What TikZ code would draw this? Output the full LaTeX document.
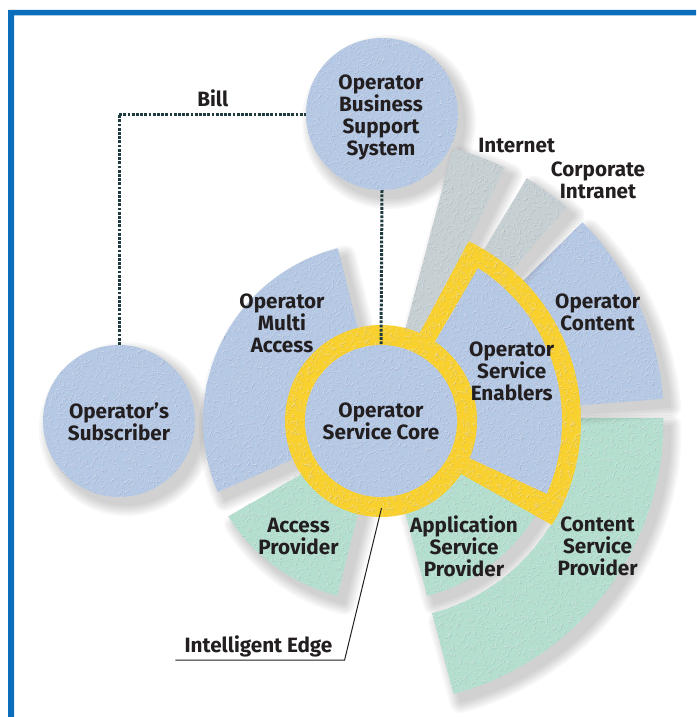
\documentclass[tikz,border=0pt]{standalone}
\usepackage{fontspec}
\setmainfont{Fira Sans}
\definecolor{frameblue}{HTML}{0A6EBD}
\definecolor{opblue}{HTML}{B5C8E4}
\definecolor{provgreen}{HTML}{B4DFCE}
\definecolor{netgrey}{HTML}{C6CFD2}
\definecolor{edgeyellow}{HTML}{F9D12F}
\definecolor{dotline}{HTML}{1F3B3F}
\definecolor{ink}{HTML}{231F20}
\newcommand{\secpath}[6]{(#1:#5) -- (#2:#6) arc[start angle=#2,end angle=#3,radius=#6] -- (#4:#5) -- cycle}
\newcommand{\softshadow}[1]{%
  \foreach \w in {22,18,14,10,6,2}{\begin{scope}[transparency group,opacity=.03]\path[fill=black,draw=black,line join=round,line width=\w pt,shift={(7,-8)}] #1;\end{scope}}}
\newcommand{\shape}[2]{\softshadow{#2}\path[fill=#1] #2;}
\tikzset{
  disc/.style={circle,inner sep=0pt,minimum size=152pt,fill=opblue},
  lab/.style={align=center,text=ink,inner sep=0pt,font=\fontsize{20.7}{22}\selectfont\bfseries},
  dotted link/.style={draw=dotline,line width=3pt,dash pattern=on 2.8pt off 1.4pt},
  leader/.style={draw=ink,line width=1pt},
}
\newcommand{\squiggles}{%
  \foreach \j in {-700,-695,...,-35}{%
    \draw foreach \i in {40,45,...,670}{ (\i+5*rnd,\j+5*rnd) .. controls +(3*rand,3*rand) and +(3*rand,3*rand) .. +(4.5*rand,4.5*rand) };}}
\begin{document}
\begin{tikzpicture}[x=1pt,y=1pt]
\useasboundingbox (0,0) rectangle (696,-717);
\fill[white] (0,0) rectangle (696,-717);
\fill[frameblue] (8,-717) -- (8,-10) -- (696,-10) -- (696,-15.5) -- (14,-15.5) -- (14,-717) -- cycle;
\softshadow{(119,-421) circle[radius=76]}
\softshadow{(382,-114) circle[radius=76]}
\node[disc] (sub) at (119,-421) {};
\node[disc] (bss) at (382,-114) {};
\begin{scope}[shift={(381,-421)}]
  \shape{opblue}{\secpath{104}{104}{203.5}{203.5}{90}{178}}
  \shape{provgreen}{\secpath{214}{212}{256}{256}{90}{180}}
  \shape{provgreen}{\secpath{284.8}{284.8}{330}{330}{90}{181}}
  \shape{provgreen}{(284.9:199) -- (284.9:282.5) arc[start angle=284.9,end angle=360.6,radius=282.5] -- (0.8:199) arc[start angle=0.8,end angle=284.9-360,radius=199] -- cycle}
  \shape{opblue}{\secpath{4.5}{4.5}{44.6}{44.6}{190}{283}}
  \shape{netgrey}{\secpath{64}{64}{75.2}{75.2}{90}{282}}
  \shape{netgrey}{\secpath{49}{49}{59}{59}{195}{283}}
  \path[fill=edgeyellow] \secpath{-33.8}{-31.3}{64}{66.5}{90}{200};
  \path[fill=opblue] \secpath{-22.6}{-23.7}{57.6}{55.5}{90}{181};
\end{scope}
\node[circle,inner sep=0pt,minimum size=192pt,fill=edgeyellow] (ring) at (381,-421) {};
\node[disc] (core) at (381,-421) {};
% surface grain, limited to the filled shapes
\begin{scope}
  \clip (195,-421) arc[start angle=0,end angle=360,radius=76]
        (458,-114) arc[start angle=0,end angle=360,radius=76]
        [shift={(381,-421)}]
        \secpath{104}{104}{203.5}{203.5}{0}{178}
        \secpath{214}{212}{256}{256}{0}{180}
        \secpath{284.8}{284.8}{330}{330}{0}{181}
        (284.9:199) -- (284.9:282.5) arc[start angle=284.9,end angle=360.6,radius=282.5] -- (0.8:199) arc[start angle=0.8,end angle=284.9-360,radius=199] -- cycle
        \secpath{4.5}{4.5}{44.6}{44.6}{190}{283}
        \secpath{64}{64}{75.2}{75.2}{0}{282}
        \secpath{49}{49}{59}{59}{195}{283}
        \secpath{-33.8}{-31.3}{64}{66.5}{0}{200}
        (96,0) arc[start angle=0,end angle=360,radius=96];
  \pgfmathsetseed{11}
  \begin{scope}[draw=black!70!blue,line width=.6pt,opacity=.09,shift={(.6,-.6)}]\squiggles\end{scope}
  \pgfmathsetseed{11}
  \begin{scope}[draw=white,line width=.6pt,opacity=.3]\squiggles\end{scope}
\end{scope}
\draw[dotted link] (sub.north) -- (sub.north |- bss.west) -- (bss.west);
\draw[dotted link] (bss.south) -- (core.north);
\coordinate (leadA) at (381.5,-508);
\coordinate (leadB) at (344.6,-660);
\coordinate (leadC) at (175.4,-660);
\draw[leader] (leadA) -- (leadB) -- (leadC);
\node[lab] (tBss) at (381,-117) {Operator\\Business\\Support\\System};
\node[lab] (tBill) at (212.7,-98.7) {Bill};
\node[lab] (tNet) at (516.7,-146) {Internet};
\node[lab] (tIntra) at (598,-180.3) {Corporate\\Intranet};
\node[lab] (tCont) at (597.7,-312.7) {Operator\\Content};
\node[lab] (tEnab) at (511.7,-371.7) {Operator\\Service\\Enablers};
\node[lab] (tMulti) at (282,-323) {Operator\\Multi\\Access};
\node[lab] (tCore) at (381,-421.6) {Operator\\Service Core};
\node[lab] (tSub) at (119,-421.8) {Operator’s\\Subscriber};
\node[lab] (tAcc) at (298.5,-536) {Access\\Provider};
\node[lab] (tApp) at (464,-546.6) {Application\\Service\\Provider};
\node[lab] (tCsp) at (597.6,-546.6) {Content\\Service\\Provider};
\node[lab] (tEdge) at (258.5,-646.6) {Intelligent Edge};
\end{tikzpicture}
\end{document}
